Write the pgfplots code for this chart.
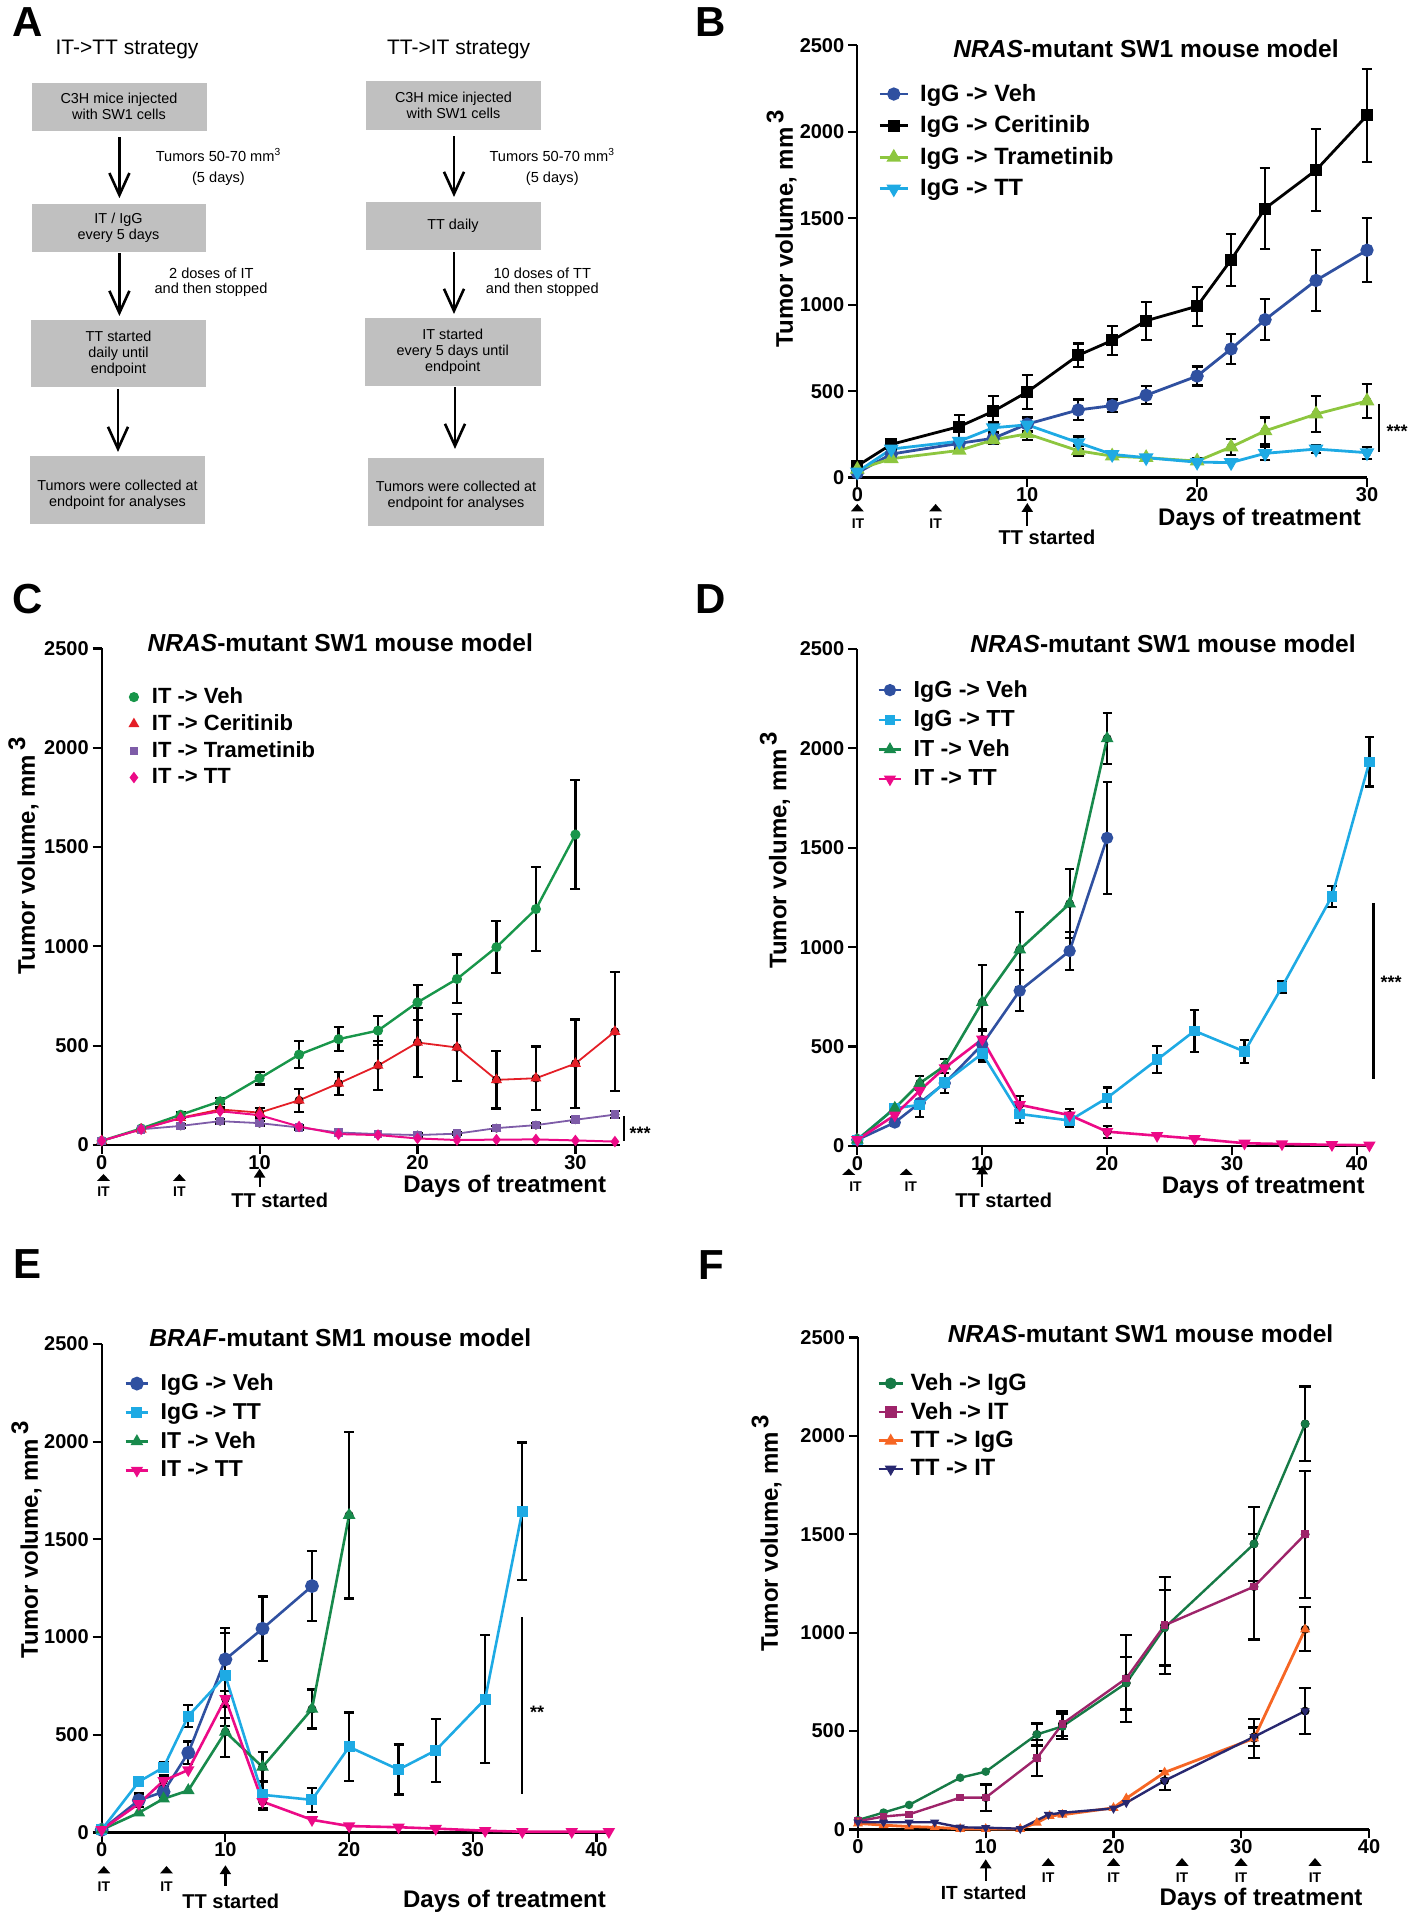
\documentclass[border=0pt]{standalone}
\usepackage{fontspec}
\setmainfont{Liberation Sans}
\usepackage{pgfplots}
\pgfplotsset{compat=1.18}
\usetikzlibrary{arrows.meta}

\definecolor{cBlue}{RGB}{47,80,160}
\definecolor{cLgreen}{RGB}{141,198,63}
\definecolor{cCyan}{RGB}{30,170,228}
\definecolor{cGreen}{RGB}{24,150,74}
\definecolor{cRed}{RGB}{228,30,38}
\definecolor{cPurple}{RGB}{126,92,168}
\definecolor{cPink}{RGB}{236,10,135}
\definecolor{cGreenD}{RGB}{24,138,76}
\definecolor{cFgreen}{RGB}{22,122,70}
\definecolor{cFpurple}{RGB}{158,36,106}
\definecolor{cForange}{RGB}{246,102,36}
\definecolor{cFnavy}{RGB}{40,40,112}
\definecolor{boxgray}{RGB}{192,192,192}

\newcommand{\itri}[3]{\fill (#1-6.5,#3) -- (#1+6.5,#3) -- (#1,#2) -- cycle;}
\newcommand{\uparr}[3]{\draw[line width=1.1pt,-{Triangle[length=4.5pt,width=5.5pt]}] (#1,#2) -- (#1,#3);}
\newcommand{\itlab}[2]{\node[font=\bfseries\fontsize{7}{8}\selectfont] at (#1,#2) {IT};}
\newcommand{\plab}[3]{\node[font=\bfseries\fontsize{21}{21}\selectfont] at (#1,#2) {#3};}
\newcommand{\ttl}[3]{\node[font=\bfseries\fontsize{12.3}{14}\selectfont] at (#1,#2) {#3};}
\newcommand{\days}[2]{\node[font=\bfseries\fontsize{12}{14}\selectfont, anchor=east] at (#1,#2) {Days of treatment};}

\pgfplotsset{
 prism/.style={
  scale only axis, anchor=south west, clip=false,
  axis lines=left, axis line style={-, line width=1.1pt},
  every tick/.style={black, line width=1.1pt},
  tick align=outside, major tick length=4.5pt,
  ymin=0, ymax=2500, ytick={0,500,1000,1500,2000,2500},
  tick label style={font=\bfseries\fontsize{10}{12}\selectfont},
  xticklabel style={yshift=3pt},
  yticklabel style={xshift=1.5pt},
  /pgf/number format/assume math mode=true,
  /pgf/number format/set thousands separator={},
  ylabel style={font=\bfseries\fontsize{12}{14}\selectfont, anchor=center},
  ylabel={Tumor volume, mm\,\raisebox{0.4em}{3}},
  legend cell align=left,
  legend style={draw=none, fill=none, anchor=north west, inner sep=0pt, nodes={inner sep=1pt}},
 },
 ebar/.style={black, forget plot, only marks, mark=none,
   error bars/.cd, y dir=both, y explicit,
   error bar style={line width=1.1pt, black, solid},
   error mark options={black, line width=1.1pt, mark size=#1, rotate=90}},
}

\begin{document}
\begin{tikzpicture}
\path[use as bounding box] (0pt,0pt) rectangle (705.5pt,960pt);

% ---------------- Panel A ----------------
\begin{scope}[shift={(0pt,960pt)}, x=0.5pt, y=-0.5pt]
\plab{28}{22}{A}
\node[font=\fontsize{10.5}{12}\selectfont] at (127,49.3) {IT->TT strategy};
\node[font=\fontsize{10.5}{12}\selectfont] at (458.6,49.3) {TT->IT strategy};
\fill[boxgray] (31.5,83) rectangle (207,131);
\fill[boxgray] (31.5,204) rectangle (206,252);
\fill[boxgray] (31,320) rectangle (206,387.5);
\fill[boxgray] (30,456) rectangle (205,524);
\fill[boxgray] (366,81) rectangle (541,130);
\fill[boxgray] (366,202) rectangle (540.5,250);
\fill[boxgray] (365,318) rectangle (540.5,386);
\fill[boxgray] (368,458) rectangle (544,526);
\begin{scope}[every node/.style={font=\fontsize{7.2}{8}\selectfont, align=center}]
\node at (119,106.5) {C3H mice injected\\with SW1 cells};
\node at (118.5,228) {IT / IgG\\every 5 days};
\node at (118.5,354) {TT started\\daily until\\endpoint};
\node at (117.5,494.5) {Tumors were collected at\\endpoint for analyses};
\node at (453.5,105.5) {C3H mice injected\\with SW1 cells};
\node at (453,226) {TT daily};
\node at (452.7,352) {IT started\\every 5 days until\\endpoint};
\node at (456,496) {Tumors were collected at\\endpoint for analyses};
\end{scope}
\begin{scope}[every node/.style={font=\fontsize{7.3}{9}\selectfont}]
\node at (218.5,155) {Tumors 50-70 mm\textsuperscript{3}};
\node at (218.5,178.6) {(5 days)};
\node at (211.3,273.2) {2 doses of IT};
\node at (211,289.3) {and then stopped};
\node at (552.3,155) {Tumors 50-70 mm\textsuperscript{3}};
\node at (552.3,178.6) {(5 days)};
\node at (542.3,273.2) {10 doses of TT};
\node at (542.3,289.3) {and then stopped};
\end{scope}
\begin{scope}[line width=1.3pt, -{Straight Barb[length=11pt,width=10pt]}]
\draw (119.4,137.5) -- (119.4,198.2);
\draw (119.4,252.9) -- (119.4,316);
\draw (118,389) -- (118,452);
\draw (454,136.4) -- (454,197);
\draw (454,251.8) -- (454,314);
\draw (455,387.5) -- (455,449);
\end{scope}
\end{scope}

% ---------------- Panel B ----------------
\begin{axis}[prism, at={(428.65pt,721.2pt)}, width=254.85pt, height=216.15pt,
  xmin=0, xmax=30, xtick={0,10,20,30},
  ylabel style={at={(axis description cs:-0.1485,0.576)}},
  legend style={at={(axis description cs:0.0406,0.916)}, font=\bfseries\fontsize{11.8}{13}\selectfont, row sep=3.8pt, /tikz/every odd column/.append style={column sep=4.5pt}},
  legend image code/.code={\draw[mark repeat=2,mark phase=2,#1] plot coordinates {(0pt,0pt) (7pt,0pt) (14pt,0pt)};},
]
\addplot[ebar=2.7pt] table[row sep=\\, y error=e] {x y e\\ 2 192 20\\ 6 295 65\\ 8 383 90\\ 10 495 100\\ 13 707 68\\ 15 793 83\\ 17 907 110\\ 20 991 113\\ 22 1259 150\\ 24 1556 233\\ 27 1778 237\\ 30 2094 271\\};
\addplot[ebar=2.7pt] table[row sep=\\, y error=e] {x y e\\ 2 136 15\\ 6 198 30\\ 8 227 35\\ 10 309 40\\ 13 391 60\\ 15 416 35\\ 17 476 52\\ 20 587 55\\ 22 744 88\\ 24 913 118\\ 27 1140 175\\ 30 1315 185\\};
\addplot[ebar=2.7pt] table[row sep=\\, y error=e] {x y e\\ 8 218 20\\ 10 253 38\\ 13 155 30\\ 15 124 15\\ 20 95 15\\ 22 177 45\\ 24 270 77\\ 27 367 105\\ 30 443 98\\};
\addplot[ebar=2.7pt] table[row sep=\\, y error=e] {x y e\\ 8 288 30\\ 10 305 40\\ 13 202 35\\ 24 140 40\\ 27 165 25\\ 30 144 35\\};
\addplot[cBlue, line width=1.4pt, mark=*, mark size=2.6pt] table[row sep=\\] {x y\\ 0 27\\ 2 136\\ 6 198\\ 8 227\\ 10 309\\ 13 391\\ 15 416\\ 17 476\\ 20 587\\ 22 744\\ 24 913\\ 27 1140\\ 30 1315\\};
\addlegendentry{IgG -> Veh}
\addplot[black, line width=1.4pt, mark=square*, mark size=2.3pt] table[row sep=\\] {x y\\ 0 68\\ 2 192\\ 6 295\\ 8 383\\ 10 495\\ 13 707\\ 15 793\\ 17 907\\ 20 991\\ 22 1259\\ 24 1556\\ 27 1778\\ 30 2094\\};
\addlegendentry{IgG -> Ceritinib}
\addplot[cLgreen, line width=1.4pt, mark=triangle*, mark size=2.9pt] table[row sep=\\] {x y\\ 0 47\\ 2 109\\ 6 157\\ 8 218\\ 10 253\\ 13 155\\ 15 124\\ 17 115\\ 20 95\\ 22 177\\ 24 270\\ 27 367\\ 30 443\\};
\addlegendentry{IgG -> Trametinib}
\addplot[cCyan, line width=1.4pt, mark=triangle*, mark size=2.9pt, mark options={rotate=180}] table[row sep=\\] {x y\\ 0 33\\ 2 165\\ 6 210\\ 8 288\\ 10 305\\ 13 202\\ 15 134\\ 17 115\\ 20 89\\ 22 87\\ 24 140\\ 27 165\\ 30 144\\};
\addlegendentry{IgG -> TT}
\end{axis}

% ---------------- Panel C ----------------
\begin{axis}[prism, at={(50.85pt,387.5pt)}, width=258.96pt, height=248.25pt,
  xmin=0, xmax=32.8, xtick={0,10,20,30},
  ylabel style={at={(axis description cs:-0.151,0.582)}},
  legend style={at={(axis description cs:0.046,0.926)}, font=\bfseries\fontsize{11}{12}\selectfont, row sep=2pt, /tikz/every odd column/.append style={column sep=4pt}},
  legend image code/.code={\path[draw=none,fill=none] (0pt,0pt) -- (8pt,0pt); \draw[#1] plot coordinates {(4pt,0pt)};},
]
\addplot[ebar=2.5pt] table[row sep=\\, y error=e] {x y e\\ 5 152 15\\ 7.5 220 15\\ 10 336 31\\ 12.5 455 67\\ 15 533 61\\ 17.5 576 73\\ 20 718 87\\ 22.5 836 123\\ 25 996 130\\ 27.5 1188 210\\ 30 1563 275\\};
\addplot[ebar=2.5pt] table[row sep=\\, y error=e] {x y e\\ 7.5 179 10\\ 10 163 25\\ 12.5 225 57\\ 15 310 57\\ 17.5 400 123\\ 20 516 172\\ 22.5 491 170\\ 25 328 144\\ 27.5 336 160\\ 30 410 222\\ 32.5 571 300\\};
\addplot[ebar=2.5pt] table[row sep=\\, y error=e] {x y e\\ 5 96 10\\ 7.5 120 12\\ 10 110 12\\ 12.5 88 10\\ 20 50 8\\ 22.5 57 8\\ 25 85 12\\ 27.5 100 12\\ 30 127 12\\ 32.5 153 18\\};
\addplot[cGreen, line width=1.2pt, mark=*, mark size=1.9pt] table[row sep=\\] {x y\\ 0 21\\ 2.5 83\\ 5 152\\ 7.5 220\\ 10 336\\ 12.5 455\\ 15 533\\ 17.5 576\\ 20 718\\ 22.5 836\\ 25 996\\ 27.5 1188\\ 30 1563\\};
\addlegendentry{IT -> Veh}
\addplot[cRed, line width=0.9pt, mark=triangle*, mark size=2.3pt] table[row sep=\\] {x y\\ 0 21\\ 2.5 79\\ 5 137\\ 7.5 179\\ 10 163\\ 12.5 225\\ 15 310\\ 17.5 400\\ 20 516\\ 22.5 491\\ 25 328\\ 27.5 336\\ 30 410\\ 32.5 571\\};
\addlegendentry{IT -> Ceritinib}
\addplot[cPurple, line width=0.9pt, mark=square*, mark size=1.7pt] table[row sep=\\] {x y\\ 0 21\\ 2.5 79\\ 5 96\\ 7.5 120\\ 10 110\\ 12.5 88\\ 15 63\\ 17.5 55\\ 20 50\\ 22.5 57\\ 25 85\\ 27.5 100\\ 30 127\\ 32.5 153\\};
\addlegendentry{IT -> Trametinib}
\addplot[cPink, line width=1.0pt, mark=diamond*, mark size=2.1pt] table[row sep=\\] {x y\\ 0 21\\ 2.5 79\\ 5 135\\ 7.5 170\\ 10 150\\ 12.5 93\\ 15 55\\ 17.5 50\\ 20 33\\ 22.5 25\\ 25 27\\ 27.5 28\\ 30 23\\ 32.5 17\\};
\addlegendentry{IT -> TT}
\end{axis}

% ---------------- Panel D ----------------
\begin{axis}[prism, at={(428.65pt,387pt)}, width=257.3pt, height=248.5pt,
  xmin=0, xmax=41.2, xtick={0,10,20,30,40},
  ylabel style={at={(axis description cs:-0.160,0.595)}},
  legend style={at={(axis description cs:0.038,0.942)}, font=\bfseries\fontsize{11.6}{13}\selectfont, row sep=3.1pt, /tikz/every odd column/.append style={column sep=4.5pt}},
  legend image code/.code={\draw[mark repeat=2,mark phase=2,#1] plot coordinates {(0pt,0pt) (5.7pt,0pt) (11.4pt,0pt)};},
]
\addplot[ebar=2.3pt] table[row sep=\\, y error=e] {x y e\\ 3 118 15\\ 5 217 70\\ 7 316 50\\ 10 510 78\\ 13 781 103\\ 17 981 95\\ 20 1550 281\\};
\addplot[ebar=2.3pt] table[row sep=\\, y error=e] {x y e\\ 3 190 20\\ 5 316 36\\ 7 403 36\\ 10 723 186\\ 13 988 191\\ 17 1219 173\\ 20 2050 128\\};
\addplot[ebar=2.3pt] table[row sep=\\, y error=e] {x y e\\ 10 465 40\\ 13 161 45\\ 17 128 30\\ 20 242 52\\ 24 434 68\\ 27 579 105\\ 31 475 57\\ 34 800 29\\ 38 1256 52\\ 41 1932 124\\};
\addplot[ebar=2.3pt] table[row sep=\\, y error=e] {x y e\\ 10 537 40\\ 13 207 45\\ 17 155 30\\ 20 72 30\\};
\addplot[cBlue, line width=1.3pt, mark=*, mark size=2.4pt] table[row sep=\\] {x y\\ 0 31\\ 3 118\\ 5 217\\ 7 316\\ 10 510\\ 13 781\\ 17 981\\ 20 1550\\};
\addlegendentry{IgG -> Veh}
\addplot[cCyan, line width=1.3pt, mark=square*, mark size=2.0pt] table[row sep=\\] {x y\\ 0 31\\ 3 190\\ 5 207\\ 7 320\\ 10 465\\ 13 161\\ 17 128\\ 20 242\\ 24 434\\ 27 579\\ 31 475\\ 34 800\\ 38 1256\\ 41 1932\\};
\addlegendentry{IgG -> TT}
\addplot[cGreenD, line width=1.3pt, mark=triangle*, mark size=2.4pt] table[row sep=\\] {x y\\ 0 31\\ 3 190\\ 5 316\\ 7 403\\ 10 723\\ 13 988\\ 17 1219\\ 20 2050\\};
\addlegendentry{IT -> Veh}
\addplot[cPink, line width=1.3pt, mark=triangle*, mark size=2.3pt, mark options={rotate=180}] table[row sep=\\] {x y\\ 0 31\\ 3 155\\ 5 279\\ 7 393\\ 10 537\\ 13 207\\ 17 155\\ 20 72\\ 24 52\\ 27 37\\ 31 14\\ 34 10\\ 38 6\\ 41 4\\};
\addlegendentry{IT -> TT}
\end{axis}

% ---------------- Panel E ----------------
\begin{axis}[prism, at={(50.85pt,43.75pt)}, width=254.2pt, height=244.25pt,
  xmin=0, xmax=41.1, xtick={0,10,20,30,40},
  ylabel style={at={(axis description cs:-0.148,0.599)}},
  legend style={at={(axis description cs:0.0435,0.944)}, font=\bfseries\fontsize{11.5}{13}\selectfont, row sep=2.8pt, /tikz/every odd column/.append style={column sep=4.5pt}},
  legend image code/.code={\draw[mark repeat=2,mark phase=2,#1] plot coordinates {(0pt,0pt) (5.7pt,0pt) (11.4pt,0pt)};},
]
\addplot[ebar=2.5pt] table[row sep=\\, y error=e] {x y e\\ 3 165 35\\ 5 208 28\\ 7 408 58\\ 10 886 162\\ 13 1043 165\\ 17 1261 180\\};
\addplot[ebar=2.5pt] table[row sep=\\, y error=e] {x y e\\ 5 333 25\\ 7 596 57\\ 10 802 217\\ 13 193 70\\ 17 167 62\\ 20 438 176\\ 24 322 128\\ 27 420 160\\ 31 683 329\\ 34 1644 352\\};
\addplot[ebar=2.5pt] table[row sep=\\, y error=e] {x y e\\ 10 515 130\\ 13 335 77\\ 17 632 100\\ 20 1624 426\\};
\addplot[ebar=2.5pt] table[row sep=\\, y error=e] {x y e\\ 5 265 27\\ 10 685 140\\ 13 158 40\\};
\addplot[cBlue, line width=1.3pt, mark=*, mark size=2.8pt] table[row sep=\\] {x y\\ 0 14\\ 3 165\\ 5 208\\ 7 408\\ 10 886\\ 13 1043\\ 17 1261\\};
\addlegendentry{IgG -> Veh}
\addplot[cCyan, line width=1.3pt, mark=square*, mark size=2.1pt] table[row sep=\\] {x y\\ 0 14\\ 3 260\\ 5 333\\ 7 596\\ 10 802\\ 13 193\\ 17 167\\ 20 438\\ 24 322\\ 27 420\\ 31 683\\ 34 1644\\};
\addlegendentry{IgG -> TT}
\addplot[cGreenD, line width=1.3pt, mark=triangle*, mark size=2.4pt] table[row sep=\\] {x y\\ 0 14\\ 3 101\\ 5 173\\ 7 215\\ 10 515\\ 13 335\\ 17 632\\ 20 1624\\};
\addlegendentry{IT -> Veh}
\addplot[cPink, line width=1.3pt, mark=triangle*, mark size=2.3pt, mark options={rotate=180}] table[row sep=\\] {x y\\ 0 14\\ 3 147\\ 5 265\\ 7 320\\ 10 685\\ 13 158\\ 17 65\\ 20 33\\ 24 27\\ 27 20\\ 31 9\\ 34 4\\ 38 4\\ 41 4\\};
\addlegendentry{IT -> TT}
\end{axis}

% ---------------- Panel F ----------------
\begin{axis}[prism, at={(429pt,45.25pt)}, width=255.5pt, height=246pt,
  xmin=0, xmax=40, xtick={0,10,20,30,40},
  ylabel style={at={(axis description cs:-0.179,0.602)}},
  legend style={at={(axis description cs:0.037,0.932)}, font=\bfseries\fontsize{11.8}{13}\selectfont, row sep=2.4pt, /tikz/every odd column/.append style={column sep=2.3pt}},
  legend image code/.code={\draw[mark repeat=2,mark phase=2,#1,mark size=2.3pt] plot coordinates {(0pt,0pt) (6pt,0pt) (12pt,0pt)};},
]
\addplot[ebar=3pt] table[row sep=\\, y error=e] {x y e\\ 14 483 56\\ 16 524 63\\ 21 744 134\\ 24 1025 192\\ 31 1451 188\\ 35 2061 190\\};
\addplot[ebar=3pt] table[row sep=\\, y error=e] {x y e\\ 10 162 67\\ 14 362 92\\ 16 537 63\\ 21 768 222\\ 24 1038 247\\ 31 1234 269\\ 35 1500 322\\};
\addplot[ebar=3pt] table[row sep=\\, y error=e] {x y e\\ 31 463 99\\ 35 1017 112\\};
\addplot[ebar=3pt] table[row sep=\\, y error=e] {x y e\\ 24 248 48\\ 31 471 47\\ 35 602 115\\};
\addplot[cFgreen, line width=1.2pt, mark=*, mark size=1.5pt] table[row sep=\\] {x y\\ 0 48\\ 2 86\\ 4 125\\ 8 263\\ 10 294\\ 14 483\\ 16 524\\ 21 744\\ 24 1025\\ 31 1451\\ 35 2061\\};
\addlegendentry{Veh -> IgG}
\addplot[cFpurple, line width=1.2pt, mark=square*, mark size=1.3pt] table[row sep=\\] {x y\\ 0 42\\ 2 66\\ 4 77\\ 8 162\\ 10 162\\ 14 362\\ 16 537\\ 21 768\\ 24 1038\\ 31 1234\\ 35 1500\\};
\addlegendentry{Veh -> IT}
\addplot[cForange, line width=1.4pt, mark=triangle*, mark size=1.5pt] table[row sep=\\] {x y\\ 0 31\\ 2 22\\ 4 15\\ 6 11\\ 8 3\\ 10 3\\ 12.7 3\\ 14 34\\ 15 69\\ 16 75\\ 20 110\\ 21 158\\ 24 290\\ 31 463\\ 35 1017\\};
\addlegendentry{TT -> IgG}
\addplot[cFnavy, line width=1.2pt, mark=triangle*, mark size=1.5pt, mark options={rotate=180}] table[row sep=\\] {x y\\ 0 37\\ 2 37\\ 4 37\\ 6 37\\ 8 11\\ 10 9\\ 12.7 4\\ 14.9 76\\ 16 85\\ 20 107\\ 21 136\\ 24 248\\ 31 471\\ 35 602\\};
\addlegendentry{TT -> IT}
\end{axis}

% ---------------- annotations ----------------
\begin{scope}[shift={(0pt,960pt)}, x=0.5pt, y=-0.5pt]
\plab{711}{22}{B}
\plab{28}{599}{C}
\plab{711}{599}{D}
\plab{28}{1264}{E}
\plab{711}{1265}{F}
\ttl{1146}{49}{\textit{NRAS}-mutant SW1 mouse model}
\ttl{340.3}{642.5}{\textit{NRAS}-mutant SW1 mouse model}
\ttl{1163}{644}{\textit{NRAS}-mutant SW1 mouse model}
\ttl{340.3}{1337.8}{\textit{BRAF}-mutant SM1 mouse model}
\ttl{1140.6}{1334}{\textit{NRAS}-mutant SW1 mouse model}
% B
\itri{857.3}{504}{511.5} \itlab{858}{524}
\itri{935.6}{504}{511.5} \itlab{935.6}{524}
\uparr{1027.3}{526}{503}
\node[font=\bfseries\fontsize{10}{12}\selectfont] at (1047,537.5) {TT started};
\days{1368}{519.5}
\draw[line width=1.1pt] (1379.3,403.6) -- (1379.3,451.8);
\node[font=\bfseries\fontsize{9}{10}\selectfont] at (1397,431) {***};
% C
\itri{103.5}{1174}{1181} \itlab{103.5}{1192}
\itri{179.4}{1174}{1181} \itlab{179.4}{1192}
\uparr{259.6}{1187}{1168.6}
\node[font=\bfseries\fontsize{10}{12}\selectfont] at (279.7,1200.5) {TT started};
\days{613.2}{1186.4}
\draw[line width=1.1pt] (623.6,1116) -- (623.6,1141);
\node[font=\bfseries\fontsize{9}{10}\selectfont] at (640,1133) {***};
% D
\itri{848.7}{1168.7}{1174.9} \itlab{855.5}{1186.8}
\itri{906.2}{1168.7}{1174.9} \itlab{910.8}{1186.8}
\uparr{982.2}{1186.8}{1165.4}
\node[font=\bfseries\fontsize{10}{12}\selectfont] at (1003.7,1200.4) {TT started};
\days{1371.6}{1187.2}
\draw[line width=1.1pt] (1373.4,903) -- (1373.4,1078.9);
\node[font=\bfseries\fontsize{9}{10}\selectfont] at (1391,982) {***};
% E
\itri{103.9}{1866}{1873.5} \itlab{103.9}{1886.5}
\itri{166.5}{1866}{1873.5} \itlab{166.5}{1886.5}
\uparr{225.4}{1885.6}{1865.2}
\node[font=\bfseries\fontsize{10}{12}\selectfont] at (230.8,1900.9) {TT started};
\days{612.9}{1901.7}
\draw[line width=1.1pt] (521.7,1617.4) -- (521.7,1794.3);
\node[font=\bfseries\fontsize{9}{10}\selectfont] at (537,1712) {**};
% F
\uparr{985.7}{1881}{1859.3}
\node[font=\bfseries\fontsize{9.5}{11}\selectfont] at (983.7,1893) {IT started};
\itri{1048.2}{1858}{1865.8} \itlab{1048.2}{1878}
\itri{1113.5}{1858}{1865.8} \itlab{1113.5}{1878}
\itri{1182}{1858}{1865.8} \itlab{1182}{1878}
\itri{1241}{1858}{1865.8} \itlab{1241}{1878}
\itri{1315}{1858}{1865.8} \itlab{1315}{1878}
\days{1369.5}{1899}
\end{scope}
\end{tikzpicture}
\end{document}
